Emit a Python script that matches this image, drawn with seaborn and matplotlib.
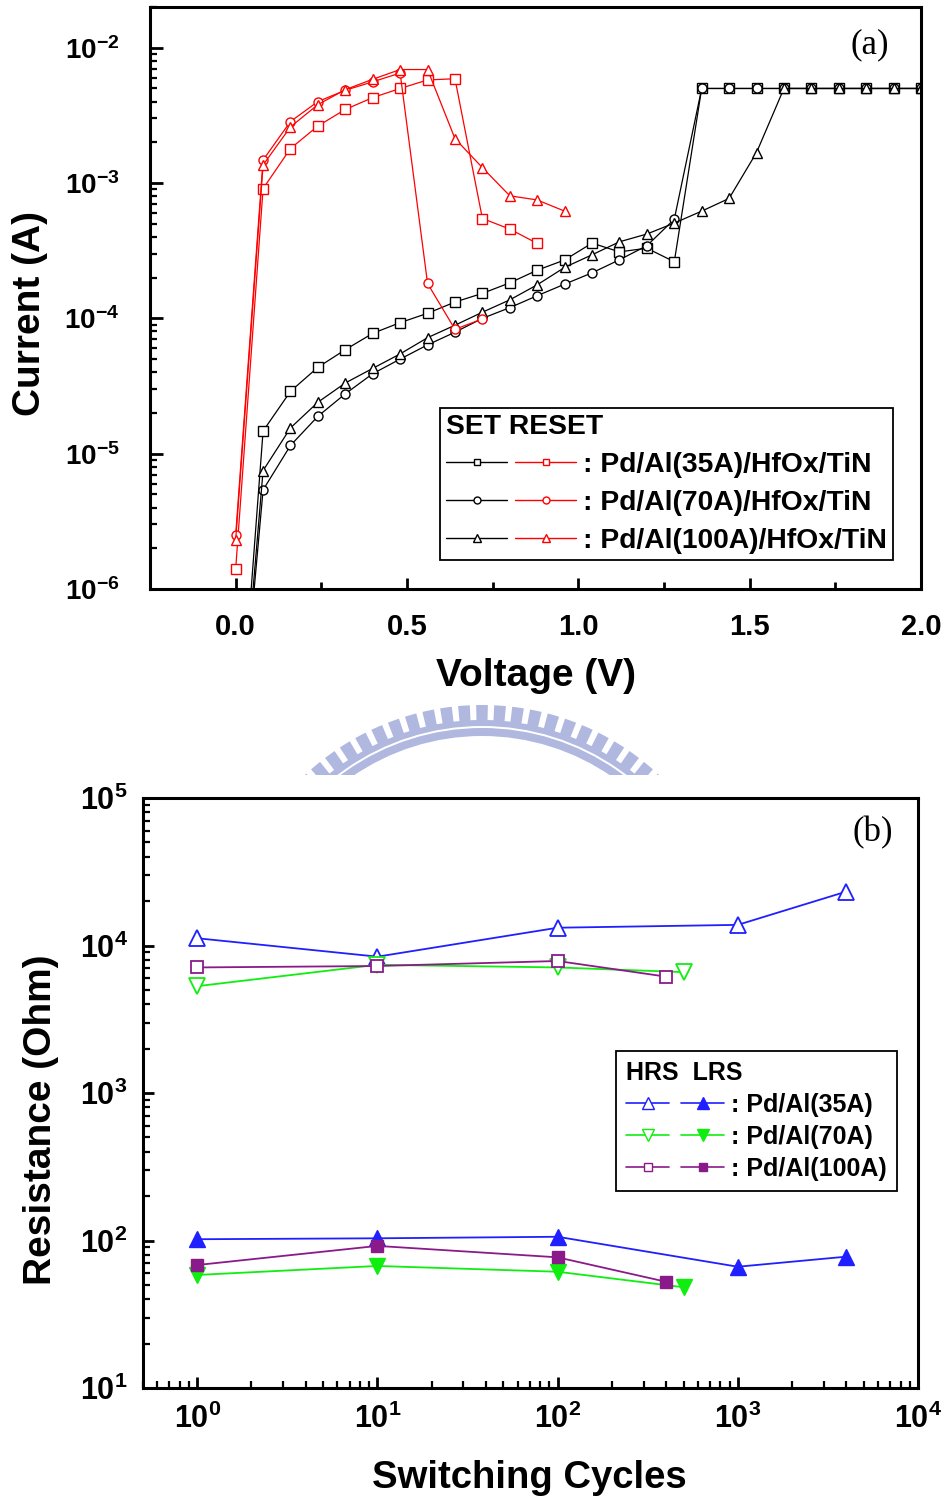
import numpy as np
import matplotlib
matplotlib.use("Agg")
import matplotlib.pyplot as plt
from matplotlib.lines import Line2D
from matplotlib.legend_handler import HandlerTuple
from matplotlib.patches import Wedge, Rectangle
from matplotlib.ticker import MultipleLocator, LogLocator, FuncFormatter, NullFormatter, FormatStrFormatter
import seaborn as sns

# ---------------- (a) I-V sweeps ----------------
v_set = [0.00, 0.08, 0.16, 0.24, 0.32, 0.40, 0.48, 0.56, 0.64, 0.72, 0.80, 0.88, 0.96,
         1.04, 1.12, 1.20, 1.28, 1.36, 1.44, 1.52, 1.60, 1.68, 1.76, 1.84, 1.92, 2.00]
i_set_35 = [3e-8, 1.47e-5, 2.89e-5, 4.35e-5, 5.87e-5, 7.75e-5, 9.3e-5, 1.09e-4, 1.32e-4,
            1.53e-4, 1.83e-4, 2.27e-4, 2.7e-4, 3.6e-4, 3.1e-4, 3.3e-4, 2.62e-4,
            5e-3, 5e-3, 5e-3, 5e-3, 5e-3, 5e-3, 5e-3, 5e-3, 5e-3]
i_set_70 = [3e-8, 5.4e-6, 1.15e-5, 1.89e-5, 2.77e-5, 3.9e-5, 5.0e-5, 6.37e-5, 7.9e-5,
            1.0e-4, 1.2e-4, 1.47e-4, 1.79e-4, 2.17e-4, 2.71e-4, 3.44e-4, 5.4e-4,
            5e-3, 5e-3, 5e-3, 5e-3, 5e-3, 5e-3, 5e-3, 5e-3, 5e-3]
i_set_100 = [3e-8, 7.5e-6, 1.55e-5, 2.4e-5, 3.33e-5, 4.27e-5, 5.46e-5, 7.2e-5, 8.9e-5,
             1.11e-4, 1.37e-4, 1.77e-4, 2.38e-4, 2.95e-4, 3.68e-4, 4.2e-4, 5.06e-4,
             6.2e-4, 7.7e-4, 1.68e-3, 5e-3, 5e-3, 5e-3, 5e-3, 5e-3, 5e-3]

v_reset_35 = [0.00, 0.08, 0.16, 0.24, 0.32, 0.40, 0.48, 0.56, 0.64, 0.72, 0.80, 0.88]
i_reset_35 = [1.4e-6, 9.1e-4, 1.8e-3, 2.64e-3, 3.5e-3, 4.28e-3, 5.0e-3, 5.78e-3, 5.9e-3,
              5.47e-4, 4.57e-4, 3.58e-4]
v_reset_70 = [0.00, 0.08, 0.16, 0.24, 0.32, 0.40, 0.48, 0.56, 0.64, 0.72]
i_reset_70 = [2.5e-6, 1.48e-3, 2.85e-3, 4.0e-3, 4.85e-3, 5.6e-3, 6.5e-3, 1.81e-4, 8.3e-5, 9.9e-5]
v_reset_100 = [0.00, 0.08, 0.16, 0.24, 0.32, 0.40, 0.48, 0.56, 0.64, 0.72, 0.80, 0.88, 0.96]
i_reset_100 = [2.3e-6, 1.36e-3, 2.6e-3, 3.8e-3, 4.9e-3, 5.85e-3, 6.9e-3, 6.9e-3, 2.13e-3,
               1.3e-3, 8.05e-4, 7.5e-4, 6.2e-4]

iv_labels = [": Pd/Al(35A)/HfOx/TiN", ": Pd/Al(70A)/HfOx/TiN", ": Pd/Al(100A)/HfOx/TiN"]

# ---------------- (b) endurance ----------------
cycles_35 = [1, 10, 100, 1000, 4000]
hrs_35 = [1.12e4, 8.4e3, 1.32e4, 1.38e4, 2.32e4]
lrs_35 = [102, 103.5, 106, 66.4, 77.7]
cycles_70 = [1, 10, 100, 500]
hrs_70 = [5.3e3, 7.4e3, 7.1e3, 6.6e3]
lrs_70 = [58.4, 67.2, 61.4, 48.2]
cycles_100 = [1, 10, 100, 400]
hrs_100 = [7.1e3, 7.26e3, 7.85e3, 6.15e3]
lrs_100 = [68.2, 91.9, 76.9, 52.5]

end_labels = [": Pd/Al(35A)", ": Pd/Al(70A)", ": Pd/Al(100A)"]

sns.set_style("ticks")
plt.rcParams.update({
    "font.family": ["Liberation Sans", "DejaVu Sans"],
    "font.weight": "bold",
    "axes.labelweight": "bold",
    "mathtext.fontset": "custom",
    "mathtext.bf": "Liberation Sans:bold",
    "mathtext.rm": "Liberation Sans:bold",
    "mathtext.default": "bf",
    "axes.linewidth": 2.2,
    "axes.edgecolor": "black",
    "xtick.direction": "in",
    "ytick.direction": "in",
    "xtick.color": "black",
    "ytick.color": "black",
    "text.color": "black",
    "axes.labelcolor": "black",
})

fig = plt.figure(figsize=(9.44, 15.0), dpi=100)
W, H = 944, 1500
ax_a = fig.add_axes([150 / W, 1 - 589 / H, 771 / W, 582 / H])
ax_b = fig.add_axes([143 / W, 1 - 1388 / H, 775 / W, 590 / H])


def curve(ax, x, y, color, marker, ms, mfc="white", lw=0.9, mew=1.0):
    sns.lineplot(x=x, y=y, ax=ax, sort=False, estimator=None, legend=False,
                 color=color, marker=marker, markersize=ms, linewidth=lw,
                 markerfacecolor=mfc, markeredgecolor=color, markeredgewidth=mew,
                 clip_on=True)


# ---- panel (a) ----
ax_a.set_yscale("log")
curve(ax_a, v_set, i_set_35, "black", "s", 6.5)
curve(ax_a, v_set, i_set_70, "black", "o", 6.5)
curve(ax_a, v_set, i_set_100, "black", "^", 7.5)
curve(ax_a, v_reset_35, i_reset_35, "red", "s", 6.5)
curve(ax_a, v_reset_70, i_reset_70, "red", "o", 6.5)
curve(ax_a, v_reset_100, i_reset_100, "red", "^", 7.5)

ax_a.set_xlim(-0.25, 2.0)
ax_a.set_ylim(1e-6, 2e-2)
ax_a.xaxis.set_major_locator(MultipleLocator(0.5))
ax_a.xaxis.set_minor_locator(MultipleLocator(0.25))
ax_a.xaxis.set_major_formatter(FormatStrFormatter("%.1f"))
ax_a.yaxis.set_major_locator(LogLocator(base=10, numticks=10))
ax_a.yaxis.set_minor_locator(LogLocator(base=10, subs=np.arange(2, 10), numticks=20))
ax_a.yaxis.set_minor_formatter(NullFormatter())
ax_a.yaxis.set_major_formatter(FuncFormatter(lambda v, p: r"$10^{%d}$" % round(np.log10(v))))
ax_a.tick_params(axis="x", which="major", length=8, width=2.0, labelsize=21, pad=17)
ax_a.tick_params(axis="x", which="minor", length=5, width=2.0)
ax_a.tick_params(axis="y", which="major", length=9, width=2.0, labelsize=20, pad=22)
ax_a.tick_params(axis="y", which="minor", length=5, width=1.6)
ax_a.tick_params(top=False, right=False, which="both")
ax_a.set_xlabel("Voltage (V)", fontsize=28)
ax_a.set_ylabel("Current (A)", fontsize=28)
ax_a.xaxis.set_label_coords(0.5, -0.118)
ax_a.yaxis.set_label_coords(-0.132, 0.474)
ax_a.text(0.934, 0.935, "(a)", transform=ax_a.transAxes, ha="center", va="center",
          fontsize=25, fontweight="normal", family=["Liberation Serif", "DejaVu Serif"])

iv_handles = []
for mk, ms in [("s", 5), ("o", 5), ("^", 6)]:
    kline = Line2D([], [], color="black", lw=1.0, marker=mk, markersize=ms,
                   markerfacecolor="white", markeredgecolor="black")
    rline = Line2D([], [], color="red", lw=1.0, marker=mk, markersize=ms,
                   markerfacecolor="white", markeredgecolor="red")
    iv_handles.append((kline, rline))
leg_a = ax_a.legend(iv_handles, iv_labels, handler_map={tuple: HandlerTuple(ndivide=None, pad=0.28)},
                    loc="lower right", bbox_to_anchor=(0.964, 0.05), borderaxespad=0,
                    title="SET RESET", alignment="left", fontsize=20.3,
                    title_fontproperties={"weight": "bold", "size": 20.3},
                    handlelength=4.6, handletextpad=0.25, labelspacing=0.42,
                    borderpad=0.22, frameon=True, fancybox=False, framealpha=1,
                    edgecolor="black")
leg_a.get_frame().set_linewidth(1.3)

# ---- panel (b) ----
ax_b.set_xscale("log")
ax_b.set_yscale("log")
blue, green, purple = "#1f1fff", "#10ee10", "#8a1a8a"
curve(ax_b, cycles_35, hrs_35, blue, "^", 11, mfc="white", lw=1.3, mew=1.3)
curve(ax_b, cycles_70, hrs_70, green, "v", 11, mfc="white", lw=1.3, mew=1.3)
curve(ax_b, cycles_100, hrs_100, purple, "s", 8.5, mfc="white", lw=1.3, mew=1.3)
curve(ax_b, cycles_35, lrs_35, blue, "^", 11, mfc=blue, lw=1.3, mew=1.0)
curve(ax_b, cycles_70, lrs_70, green, "v", 11, mfc=green, lw=1.3, mew=1.0)
curve(ax_b, cycles_100, lrs_100, purple, "s", 8.5, mfc=purple, lw=1.3, mew=1.0)

ax_b.set_xlim(0.5, 1e4)
ax_b.set_ylim(10, 1e5)
for axis in (ax_b.xaxis, ax_b.yaxis):
    axis.set_major_locator(LogLocator(base=10, numticks=10))
    axis.set_minor_locator(LogLocator(base=10, subs=np.arange(2, 10), numticks=20))
    axis.set_minor_formatter(NullFormatter())
    axis.set_major_formatter(FuncFormatter(lambda v, p: r"$10^{%d}$" % round(np.log10(v))))
ax_b.tick_params(axis="both", which="major", length=8, width=2.0, labelsize=22)
ax_b.tick_params(axis="both", which="minor", length=5, width=1.6)
ax_b.tick_params(axis="x", which="major", pad=11)
ax_b.tick_params(axis="y", which="major", pad=11)
ax_b.tick_params(top=False, right=False, which="both")
ax_b.set_xlabel("Switching Cycles", fontsize=27.5)
ax_b.set_ylabel("Resistance (Ohm)", fontsize=28)
ax_b.xaxis.set_label_coords(0.499, -0.122)
ax_b.yaxis.set_label_coords(-0.108, 0.454)
ax_b.text(0.941, 0.941, "(b)", transform=ax_b.transAxes, ha="center", va="center",
          fontsize=25, fontweight="normal", family=["Liberation Serif", "DejaVu Serif"])

end_handles = []
for col, op, cl, ms in [(blue, "^", "^", 8), (green, "v", "v", 8), (purple, "s", "s", 6)]:
    h_open = Line2D([], [], color=col, lw=1.2, marker=op, markersize=ms,
                    markerfacecolor="white", markeredgecolor=col)
    h_fill = Line2D([], [], color=col, lw=1.2, marker=cl, markersize=ms,
                    markerfacecolor=col, markeredgecolor=col)
    end_handles.append((h_open, h_fill))
leg_b = ax_b.legend(end_handles, end_labels, handler_map={tuple: HandlerTuple(ndivide=None, pad=0.5)},
                    loc="lower right", bbox_to_anchor=(0.973, 0.334), borderaxespad=0,
                    title="HRS  LRS", alignment="left", fontsize=18,
                    title_fontproperties={"weight": "bold", "size": 18},
                    handlelength=3.9, handletextpad=0.3, labelspacing=0.32,
                    borderpad=0.4, frameon=True, fancybox=False, framealpha=1,
                    edgecolor="black")
leg_b.get_frame().set_linewidth(1.3)

# ---- faint emblem between the panels ----
wm = fig.add_axes([0, 0, 1, 1], zorder=-5)
wm.set_xlim(0, W)
wm.set_ylim(H, 0)
wm.axis("off")
clip = Rectangle((0, 0), W, 775, transform=wm.transData)
cx, cy = 482, 964
logo = "#b0b8e0"
pieces = []
for k in range(-11, 12):
    a = 270 + k * 4.0
    pieces.append(Wedge((cx, cy), 259, a - 1.3, a + 1.3, width=17))
pieces.append(Wedge((cx, cy), 244, 200, 340, width=6))
pieces.append(Wedge((cx, cy), 236, 200, 340, width=8))
for p in pieces:
    p.set_facecolor(logo)
    p.set_edgecolor("none")
    wm.add_patch(p)
    p.set_clip_path(clip)

fig.savefig("out.png", dpi=100, facecolor="white")
